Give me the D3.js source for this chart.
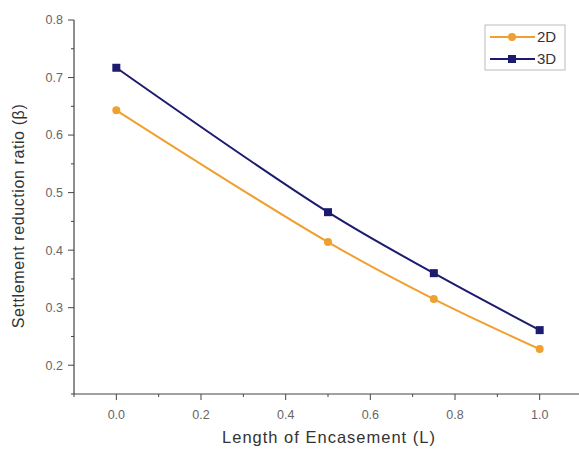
<!DOCTYPE html>
<html><head><meta charset="utf-8">
<script src="https://cdn.jsdelivr.net/npm/d3@7"></script>
<style>body{margin:0;background:#fff}svg{display:block}</style>
</head><body>
<svg id="c" width="579" height="450"></svg>
<script>
const xValues = [0.0, 0.5, 0.75, 1.0];
const series2D = [0.643, 0.414, 0.315, 0.228];
const series3D = [0.717, 0.466, 0.360, 0.261];
const seriesNames = ["2D", "3D"];
const xTicks = [0.0, 0.2, 0.4, 0.6, 0.8, 1.0];
const yTicks = [0.2, 0.3, 0.4, 0.5, 0.6, 0.7, 0.8];
const xLabel = "Length of Encasement (L)";
const yLabel = "Settlement reduction ratio (β)";

const svg = d3.select("#c");
const font = "'Liberation Sans', Arial, sans-serif";
const x = d3.scaleLinear().domain([-0.1, 1.1]).range([74, 582]);
const y = d3.scaleLinear().domain([0.15, 0.8]).range([394, 20]);
const axisCol = "#444", textCol = "#666";

const xMinor = d3.range(-0.1, 1.101, 0.1).filter(v => Math.abs(Math.round(v*10)%2) === 1);
const yMinor = d3.range(0.15, 0.8, 0.1);

const gx = svg.append("g").attr("transform", "translate(0,394)");
gx.append("line").attr("x1", 74).attr("x2", 582).attr("stroke", axisCol).attr("stroke-width", 1.2);
gx.selectAll(".mj").data(xTicks).join("line").attr("x1", d => x(d)).attr("x2", d => x(d)).attr("y1", 0).attr("y2", 6).attr("stroke", axisCol);
gx.selectAll(".mn").data(xMinor).join("line").attr("class","mn").attr("x1", d => x(d)).attr("x2", d => x(d)).attr("y1", 0).attr("y2", 3).attr("stroke", axisCol);
gx.selectAll("text").data(xTicks).join("text").attr("x", d => x(d)).attr("y", 25).attr("text-anchor", "middle")
  .attr("font-family", font).attr("font-size", 12.5).attr("fill", textCol).text(d => d3.format(".1f")(d));

const gy = svg.append("g").attr("transform", "translate(74,0)");
gy.append("line").attr("y1", 20).attr("y2", 394).attr("stroke", axisCol).attr("stroke-width", 1.2);
gy.selectAll(".mj").data(yTicks).join("line").attr("y1", d => y(d)).attr("y2", d => y(d)).attr("x1", 0).attr("x2", -6).attr("stroke", axisCol);
gy.selectAll(".mn").data(yMinor).join("line").attr("class","mn").attr("y1", d => y(d)).attr("y2", d => y(d)).attr("x1", 0).attr("x2", -3).attr("stroke", axisCol);
gy.selectAll("text").data(yTicks).join("text").attr("x", -11).attr("y", d => y(d)).attr("dy", "0.35em").attr("text-anchor", "end")
  .attr("font-family", font).attr("font-size", 12.5).attr("fill", textCol).text(d => d3.format(".1f")(d));

svg.append("text").attr("x", 329).attr("y", 443).attr("text-anchor", "middle").attr("font-family", font)
  .attr("font-size", 16.5).attr("letter-spacing", 1).attr("fill", "#333").text(xLabel);
svg.append("text").attr("transform", "translate(24,216) rotate(-90)").attr("text-anchor", "middle").attr("font-family", font)
  .attr("font-size", 16).attr("letter-spacing", 0.6).attr("fill", "#333").text(yLabel);

const cols = ["#f0a030", "#1c1c6e"];
const data = [series2D, series3D];
const line = d3.line().x((d, i) => x(xValues[i])).y(d => y(d)).curve(d3.curveCatmullRom);
data.forEach((s, k) => {
  svg.append("path").attr("d", line(s)).attr("fill", "none").attr("stroke", cols[k]).attr("stroke-width", 2);
  if (k === 0) {
    svg.selectAll(".m0").data(s).join("circle").attr("class","m0").attr("cx", (d, i) => x(xValues[i])).attr("cy", d => y(d)).attr("r", 4).attr("fill", cols[k]);
  } else {
    svg.selectAll(".m1").data(s).join("rect").attr("class","m1").attr("x", (d, i) => x(xValues[i]) - 4).attr("y", d => y(d) - 4).attr("width", 8).attr("height", 8).attr("fill", cols[k]);
  }
});

const lg = svg.append("g");
lg.append("rect").attr("x", 485).attr("y", 25).attr("width", 80).attr("height", 45).attr("fill", "#fff").attr("stroke", "#bbb").attr("stroke-width", 1);
seriesNames.forEach((n, k) => {
  const yy = 37 + k * 22;
  lg.append("line").attr("x1", 490).attr("x2", 535).attr("y1", yy).attr("y2", yy).attr("stroke", cols[k]).attr("stroke-width", 2);
  if (k === 0) lg.append("circle").attr("cx", 512).attr("cy", yy).attr("r", 4).attr("fill", cols[k]);
  else lg.append("rect").attr("x", 508).attr("y", yy - 4).attr("width", 8).attr("height", 8).attr("fill", cols[k]);
  lg.append("text").attr("x", 537).attr("y", yy).attr("dy", "0.35em").attr("font-family", font).attr("font-size", 15).attr("fill", "#333").text(n);
});
</script>
</body></html>
